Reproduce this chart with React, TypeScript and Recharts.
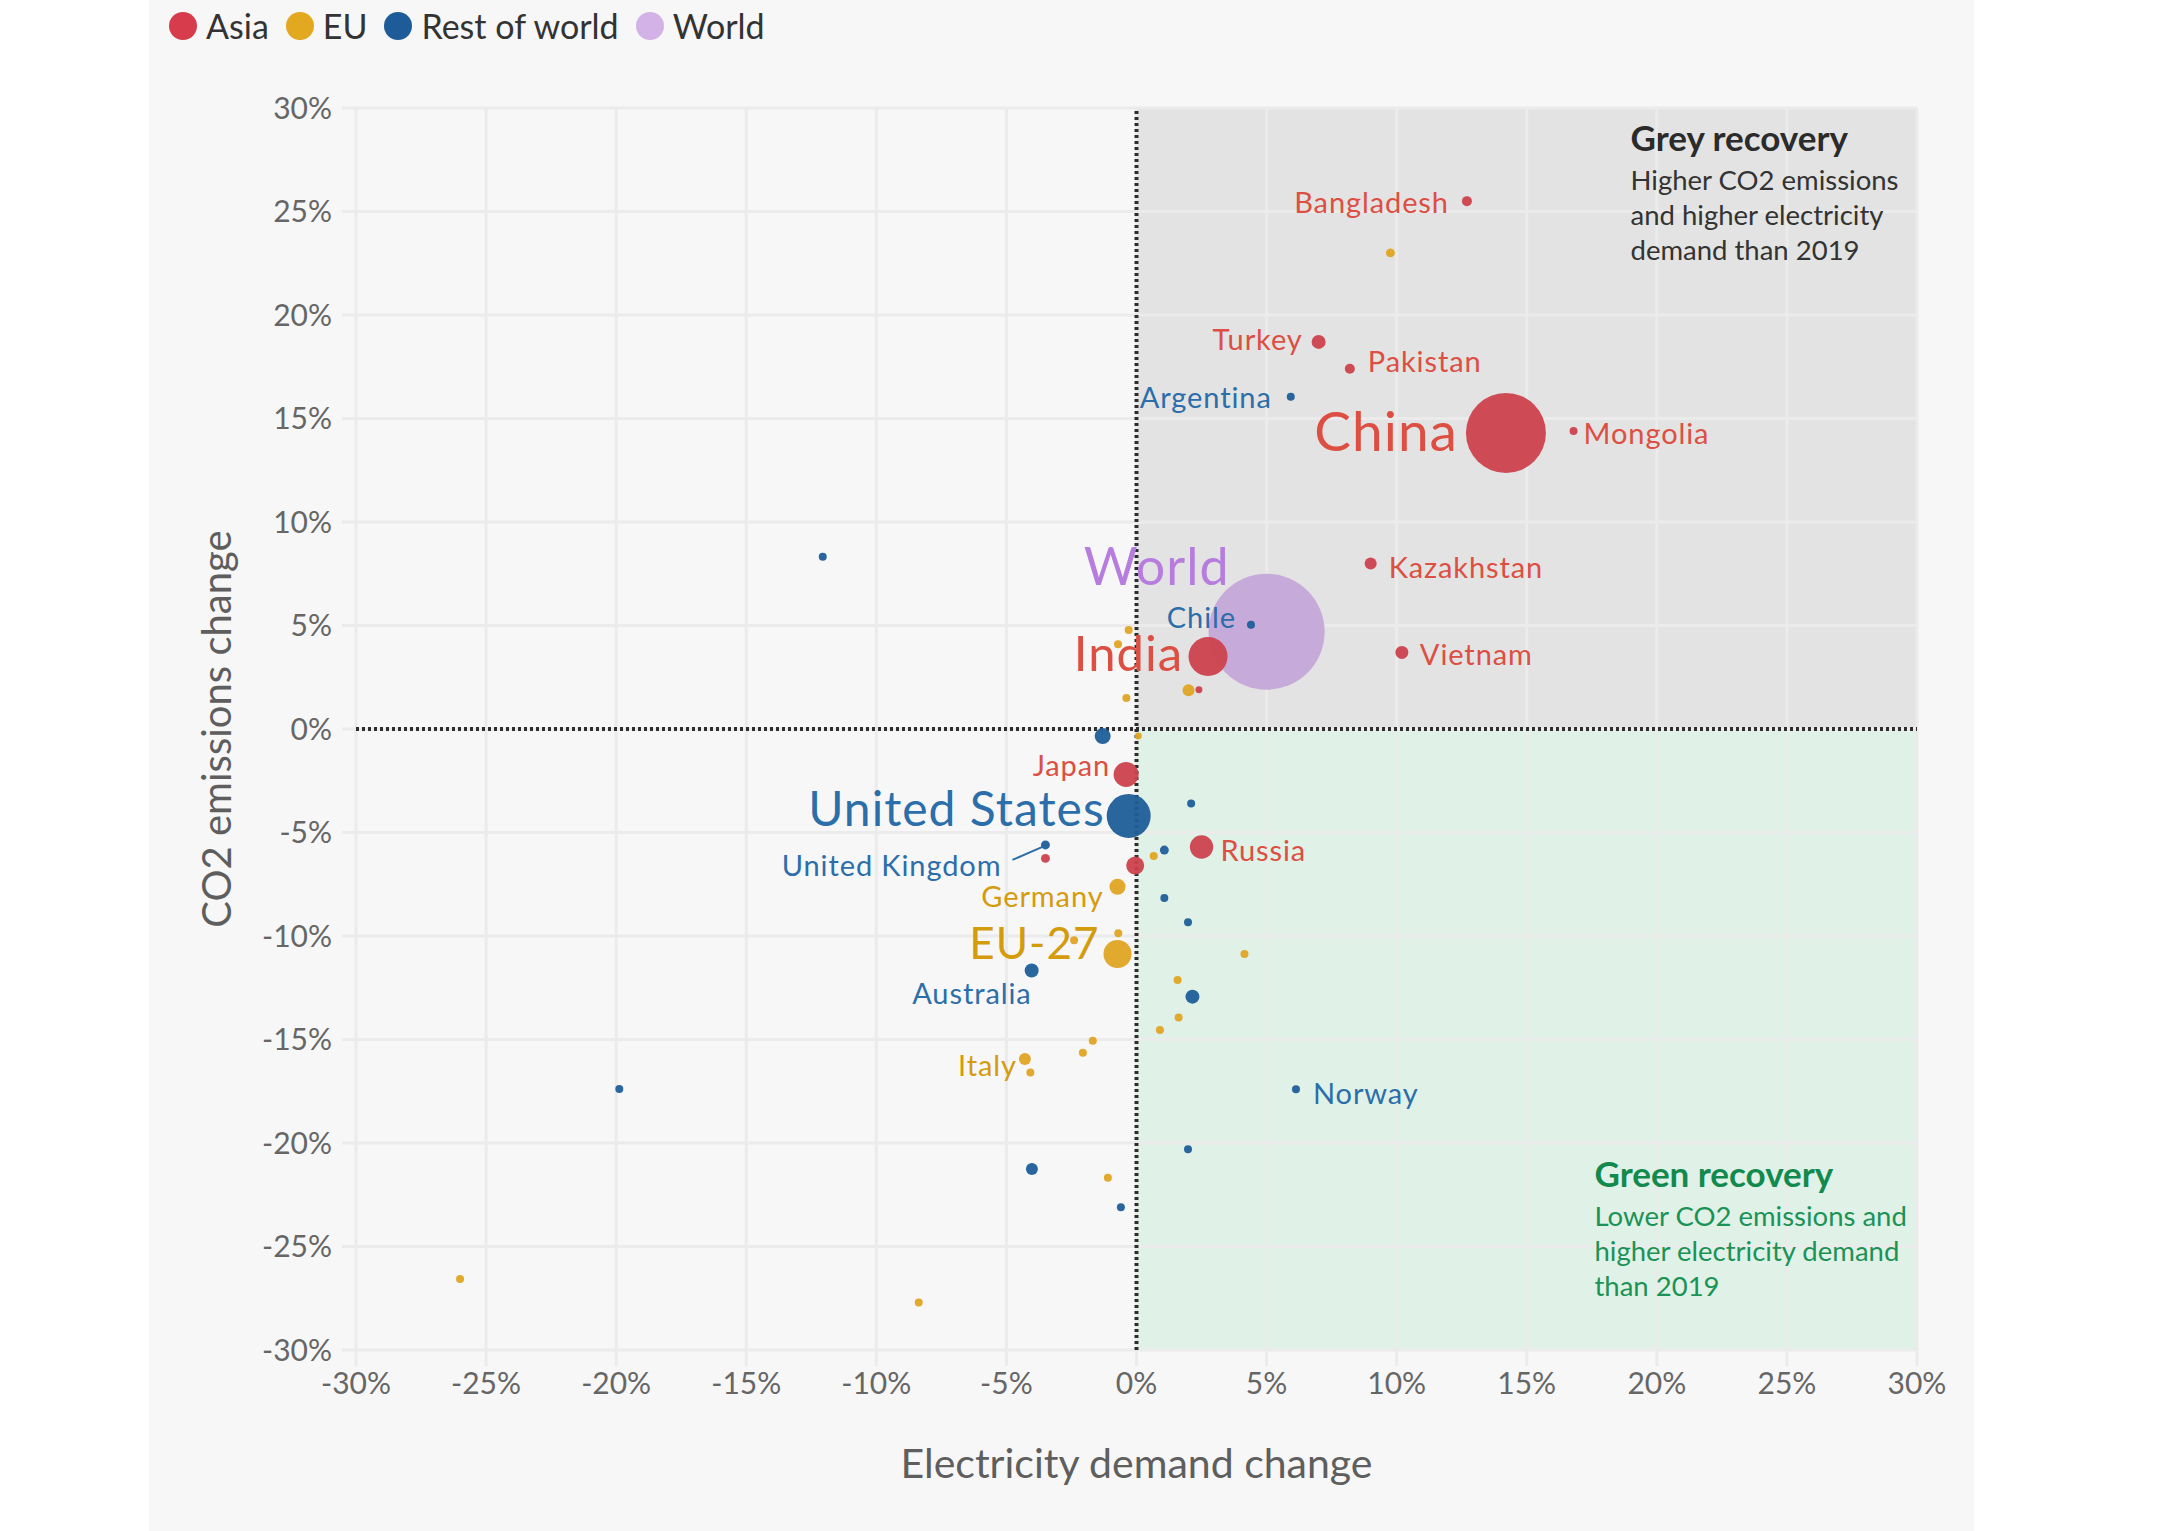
import React from 'react'
import {
  ScatterChart,
  Scatter,
  XAxis,
  YAxis,
  ZAxis,
  CartesianGrid,
  ReferenceArea,
  ReferenceLine,
} from 'recharts'

// ── Data ───────────────────────────────────────────────────────────────────────
// demand = electricity demand change vs 2019 (%), co2 = CO2 emissions change (%)
// weight = relative bubble weight (bubble area is proportional to it)

const REGIONS = ['Asia', 'EU', 'Rest of world', 'World'] as const
type Region = (typeof REGIONS)[number]

const ASIA_NAMES  = ['Bangladesh', 'Turkey', 'Pakistan', 'China', 'Mongolia', 'Kazakhstan', 'Vietnam', 'India', '', 'Japan', '', '', 'Russia']
const ASIA_DEMAND = [12.7, 7.0, 8.2, 14.2, 16.8, 9.0, 10.2, 2.75, 2.4, -0.4, -3.5, -0.05, 2.5]
const ASIA_CO2    = [25.5, 18.7, 17.4, 14.3, 14.4, 8.0, 3.7, 3.5, 1.9, -2.2, -6.25, -6.6, -5.7]
const ASIA_WEIGHT = [25, 49, 25, 1600, 16, 36, 42, 380, 12, 156, 20, 81, 136]

const EU_NAMES  = ['EU-27', 'Germany', 'Italy', '', '', '', '', '', '', '', '', '', '', '', '', '', '', '', '', '', '', '']
const EU_DEMAND = [-0.73, -0.73, -4.29, 9.76, -0.3, -0.71, 2.0, -0.39, 0.07, 0.66, -0.7, -2.4, 4.15, 1.58, 1.62, 0.9, -1.68, -2.06, -4.08, -1.1, -26.0, -8.37]
const EU_CO2    = [-10.87, -7.62, -15.94, 23.0, 4.78, 4.1, 1.87, 1.5, -0.34, -6.13, -9.87, -10.2, -10.87, -12.13, -13.94, -14.54, -15.06, -15.64, -16.6, -21.68, -26.57, -27.7]
const EU_WEIGHT = [196, 64, 36, 20, 16, 16, 36, 16, 12, 16, 16, 16, 16, 16, 16, 16, 16, 16, 16, 16, 16, 16]

const ROW_NAMES  = ['United States', 'Argentina', 'Chile', 'United Kingdom', 'Australia', 'Norway', '', '', '', '', '', '', '', '', '', '', '']
const ROW_DEMAND = [-0.3, 5.93, 4.4, -3.5, -4.03, 6.13, -12.06, -1.3, 2.1, 1.07, 1.07, 1.98, 2.15, -19.88, -4.02, -0.6, 1.98]
const ROW_CO2    = [-4.2, 16.05, 5.04, -5.6, -11.67, -17.4, 8.32, -0.34, -3.6, -5.85, -8.16, -9.34, -12.93, -17.39, -21.26, -23.1, -20.3]
const ROW_WEIGHT = [484, 16, 16, 20, 49, 16, 16, 64, 16, 20, 16, 16, 49, 16, 36, 16, 16]

const WORLD_NAMES  = ['World']
const WORLD_DEMAND = [5.0]
const WORLD_CO2    = [4.7]
const WORLD_WEIGHT = [3364]

const AXIS_TICKS = [-30, -25, -20, -15, -10, -5, 0, 5, 10, 15, 20, 25, 30]

const GREY_TITLE = 'Grey recovery'
const GREY_LINES = ['Higher CO2 emissions', 'and higher electricity', 'demand than 2019']
const GREEN_TITLE = 'Green recovery'
const GREEN_LINES = ['Lower CO2 emissions and', 'higher electricity  demand', 'than 2019']

// ── Styles ─────────────────────────────────────────────────────────────────────

const FONT = 'Lato, "Noto Sans", sans-serif'
const WEIGHT_MAX = 3400

const REGION_STYLE: Record<Region, { dot: string; text: string; legend: string }> = {
  Asia:            { dot: '#cc424d', text: '#dc4f42', legend: '#d63c4b' },
  EU:              { dot: '#e0a424', text: '#d49b0d', legend: '#e2a81f' },
  'Rest of world': { dot: '#1f5e99', text: '#2b6eaa', legend: '#1d5c98' },
  World:           { dot: '#c4a6d8', text: '#b67ddf', legend: '#d3b3e7' },
}

interface LabelStyle {
  size: number
  anchor: 'start' | 'end'
  dx: number
  dy: number
  leader?: [number, number, number, number]
}

const LABEL_STYLE: Record<string, LabelStyle> = {
  Bangladesh:       { size: 29, anchor: 'end',   dx: -18, dy: 0 },
  Turkey:           { size: 29, anchor: 'end',   dx: -16, dy: -3 },
  Pakistan:         { size: 29, anchor: 'start', dx: 18,  dy: -8 },
  Argentina:        { size: 29, anchor: 'end',   dx: -19, dy: 0 },
  China:            { size: 55, anchor: 'end',   dx: -48, dy: -3 },
  Mongolia:         { size: 29, anchor: 'start', dx: 10,  dy: 2 },
  Kazakhstan:       { size: 29, anchor: 'start', dx: 18,  dy: 3 },
  Vietnam:          { size: 29, anchor: 'start', dx: 18,  dy: 1 },
  India:            { size: 49, anchor: 'end',   dx: -25, dy: -5 },
  World:            { size: 52, anchor: 'end',   dx: -37, dy: -67 },
  Chile:            { size: 29, anchor: 'end',   dx: -15, dy: -8 },
  Japan:            { size: 29, anchor: 'end',   dx: -16, dy: -10 },
  'United States':  { size: 48, anchor: 'end',   dx: -24, dy: -8 },
  'United Kingdom': { size: 29, anchor: 'end',   dx: -44, dy: 20, leader: [-33, 15, -3, 2] },
  Russia:           { size: 29, anchor: 'start', dx: 19,  dy: 3 },
  Germany:          { size: 29, anchor: 'end',   dx: -14, dy: 9 },
  'EU-27':          { size: 44, anchor: 'end',   dx: -18, dy: -12 },
  Australia:        { size: 29, anchor: 'end',   dx: 0,   dy: 22 },
  Italy:            { size: 29, anchor: 'end',   dx: -8,  dy: 6 },
  Norway:           { size: 29, anchor: 'start', dx: 17,  dy: 3 },
}

// ── Helpers ────────────────────────────────────────────────────────────────────

interface Point {
  region: Region
  name: string
  x: number
  y: number
  z: number
}

function buildPoints(region: Region, names: string[], xs: number[], ys: number[], ws: number[]): Point[] {
  return xs.map((x, i) => ({ region, name: names[i] ?? '', x, y: ys[i], z: ws[i] }))
}

const asia  = buildPoints('Asia', ASIA_NAMES, ASIA_DEMAND, ASIA_CO2, ASIA_WEIGHT)
const eu    = buildPoints('EU', EU_NAMES, EU_DEMAND, EU_CO2, EU_WEIGHT)
const row   = buildPoints('Rest of world', ROW_NAMES, ROW_DEMAND, ROW_CO2, ROW_WEIGHT)
const world = buildPoints('World', WORLD_NAMES, WORLD_DEMAND, WORLD_CO2, WORLD_WEIGHT)
const labelled = [...world, ...eu, ...row, ...asia].filter((p) => p.name !== '')

const fmtPct = (v: number) => `${v}%`

// ── Shapes ─────────────────────────────────────────────────────────────────────

// eslint-disable-next-line @typescript-eslint/no-explicit-any
function Bubble(props: any) {
  const { cx, cy, width, size, payload } = props
  if (cx == null || cy == null) return null
  const r = width ? width / 2 : Math.sqrt((size ?? 0) / Math.PI)
  return <circle cx={cx} cy={cy} r={r} fill={REGION_STYLE[payload.region as Region].dot} fillOpacity={0.95} />
}

// eslint-disable-next-line @typescript-eslint/no-explicit-any
function NameLabel(props: any) {
  const { cx, cy, payload } = props
  const s = LABEL_STYLE[payload.name]
  if (cx == null || cy == null || !s) return null
  const color = REGION_STYLE[payload.region as Region].text
  return (
    <g>
      {s.leader && (
        <line
          x1={cx + s.leader[0]} y1={cy + s.leader[1]}
          x2={cx + s.leader[2]} y2={cy + s.leader[3]}
          stroke={color} strokeWidth={2}
        />
      )}
      <text
        x={cx + s.dx}
        y={cy + s.dy}
        textAnchor={s.anchor}
        dominantBaseline="central"
        fontFamily={FONT}
        fontSize={s.size}
        letterSpacing={s.size > 40 ? 1 : 0.9}
        fill={color}
      >
        {payload.name}
      </text>
    </g>
  )
}

// eslint-disable-next-line @typescript-eslint/no-explicit-any
function QuadrantNote({ viewBox, title, lines, dx, dy, titleColor, color }: any) {
  if (!viewBox) return null
  const x = viewBox.x + dx
  const y = viewBox.y + dy
  return (
    <g fontFamily={FONT}>
      <text x={x} y={y} fontSize={35} fontWeight={700} fill={titleColor}>{title}</text>
      {lines.map((l: string, i: number) => (
        <text key={i} x={x} y={y + 39 + i * 35} fontSize={27.5} fill={color}>{l}</text>
      ))}
    </g>
  )
}

// eslint-disable-next-line @typescript-eslint/no-explicit-any
function YTitle({ viewBox }: any) {
  if (!viewBox) return null
  const x = viewBox.x - 40
  const y = viewBox.y + viewBox.height / 2
  return (
    <text
      x={x} y={y}
      transform={`rotate(-90 ${x} ${y})`}
      textAnchor="middle"
      dominantBaseline="central"
      fontFamily={FONT}
      fontSize={40}
      fill="#5e5e5e"
    >
      CO2 emissions change
    </text>
  )
}

// eslint-disable-next-line @typescript-eslint/no-explicit-any
function XTitle({ viewBox }: any) {
  if (!viewBox) return null
  return (
    <text
      x={viewBox.x + viewBox.width / 2}
      y={viewBox.y + 112}
      textAnchor="middle"
      dominantBaseline="central"
      fontFamily={FONT}
      fontSize={41}
      fill="#5e5e5e"
    >
      Electricity demand change
    </text>
  )
}

// ── Legend ─────────────────────────────────────────────────────────────────────

function RegionLegend() {
  return (
    <div
      style={{
        position: 'absolute', left: 169, top: 8,
        display: 'flex', alignItems: 'center',
        fontFamily: FONT, fontSize: 34, color: '#333', lineHeight: '36px',
      }}
    >
      {REGIONS.map((r) => (
        <span key={r} style={{ display: 'flex', alignItems: 'center', marginRight: 17 }}>
          <span
            style={{
              width: 28, height: 28, borderRadius: 14, marginRight: 9,
              backgroundColor: REGION_STYLE[r].legend,
            }}
          />
          {r}
        </span>
      ))}
    </div>
  )
}

// ── Component ──────────────────────────────────────────────────────────────────

export default function App() {
  const tick = { fill: '#666', fontSize: 30, fontFamily: FONT }
  return (
    <div style={{ position: 'absolute', left: 0, top: 0, width: 2160, height: 1531, background: '#fff', overflow: 'hidden' }}>
      <div style={{ position: 'absolute', left: 149, top: 0, width: 1825, height: 1531, background: '#f7f7f7' }} />
      <RegionLegend />
      <div style={{ position: 'absolute', left: 0, top: 0 }}>
        <ScatterChart width={2160} height={1531} margin={{ top: 108, right: 243, bottom: 121, left: 256 }}>
          {/* quadrant fills, kept under the grid */}
          <ReferenceArea x1={0} x2={30} y1={0} y2={30} fill="#e3e3e3" fillOpacity={1} stroke="none" zIndex={-200} />
          <ReferenceArea x1={0} x2={30} y1={-30} y2={0} fill="#e0f1e7" fillOpacity={1} stroke="none" zIndex={-200} />
          <CartesianGrid stroke="#ebebeb" strokeWidth={3} zIndex={-100} />
          {/* quadrant notes, drawn above the grid */}
          <ReferenceArea
            x1={0} x2={30} y1={0} y2={30} fill="none" fillOpacity={0} stroke="none"
            label={<QuadrantNote title={GREY_TITLE} lines={GREY_LINES} dx={494} dy={43} titleColor="#2b2b2b" color="#333" />}
          />
          <ReferenceArea
            x1={0} x2={30} y1={-30} y2={0} fill="none" fillOpacity={0} stroke="none"
            label={<QuadrantNote title={GREEN_TITLE} lines={GREEN_LINES} dx={458} dy={458} titleColor="#128a4e" color="#1b9356" />}
          />
          <XAxis
            type="number" dataKey="x" domain={[-30, 30]} ticks={AXIS_TICKS}
            tickFormatter={fmtPct} tick={tick} axisLine={false}
            tickLine={{ stroke: '#ebebeb', strokeWidth: 3 }} tickSize={16} tickMargin={7}
            height={60} allowDataOverflow
            label={<XTitle />}
          />
          <YAxis
            type="number" dataKey="y" domain={[-30, 30]} ticks={AXIS_TICKS}
            tickFormatter={fmtPct} tick={tick} axisLine={false}
            tickLine={{ stroke: '#ebebeb', strokeWidth: 3 }} tickSize={14} tickMargin={10}
            width={100} allowDataOverflow
            label={<YTitle />}
          />
          <ZAxis type="number" dataKey="z" domain={[0, WEIGHT_MAX]} range={[0, WEIGHT_MAX * Math.PI]} />
          <Scatter name="World" data={world} shape={<Bubble />} isAnimationActive={false} />
          <Scatter name="EU" data={eu} shape={<Bubble />} isAnimationActive={false} />
          <Scatter name="Rest of world" data={row} shape={<Bubble />} isAnimationActive={false} />
          <Scatter name="Asia" data={asia} shape={<Bubble />} isAnimationActive={false} />
          <ReferenceLine x={0} stroke="#2e2e2e" strokeWidth={4} strokeDasharray="3 3" />
          <ReferenceLine y={0} stroke="#2e2e2e" strokeWidth={4} strokeDasharray="3 3" />
          <Scatter name="labels" data={labelled} shape={<NameLabel />} isAnimationActive={false} legendType="none" />
        </ScatterChart>
      </div>
    </div>
  )
}
